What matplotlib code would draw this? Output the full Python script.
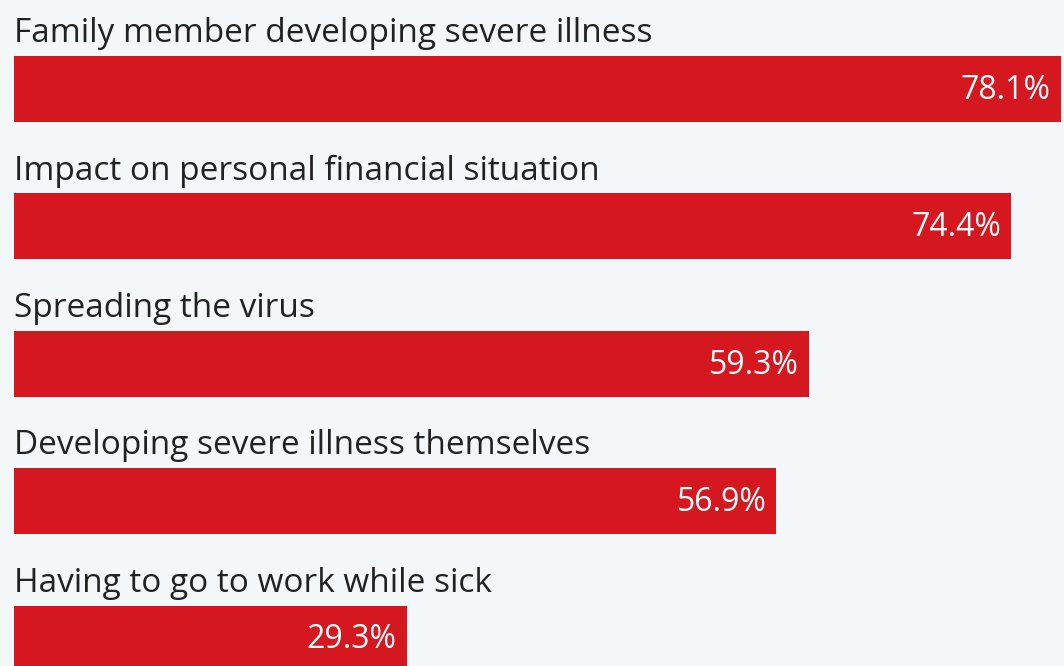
import matplotlib
matplotlib.use("Agg")
import matplotlib.pyplot as plt

categories = [
    "Family member developing severe illness",
    "Impact on personal financial situation",
    "Spreading the virus",
    "Developing severe illness themselves",
    "Having to go to work while sick",
]
values = [78.1, 74.4, 59.3, 56.9, 29.3]

BG = "#f3f7fa"
RED = "#d51820"
TEXT = "#222222"

fig = plt.figure(figsize=(10.64, 6.66), dpi=100, facecolor=BG)
ax = fig.add_axes([0, 0, 1, 1], facecolor=BG)

bar_h = 0.48
ypos = list(range(len(categories)))
ax.barh(ypos, values, height=bar_h, color=RED, edgecolor="none")

for y, cat, v in zip(ypos, categories, values):
    ax.text(0, y - bar_h / 2 - 0.10, cat, ha="left", va="baseline",
            fontsize=24, color=TEXT, family="Open Sans")
    ax.text(v - 0.75, y + 0.01, f"{v}%", ha="right", va="center",
            fontsize=23, color="white", family="Open Sans")

ax.set_xlim(-14 / 13.4, 1050 / 13.4)
ax.set_ylim((666 - 89) / 137.4, -89 / 137.4)
ax.axis("off")

fig.savefig("out.png", dpi=100, facecolor=BG)
